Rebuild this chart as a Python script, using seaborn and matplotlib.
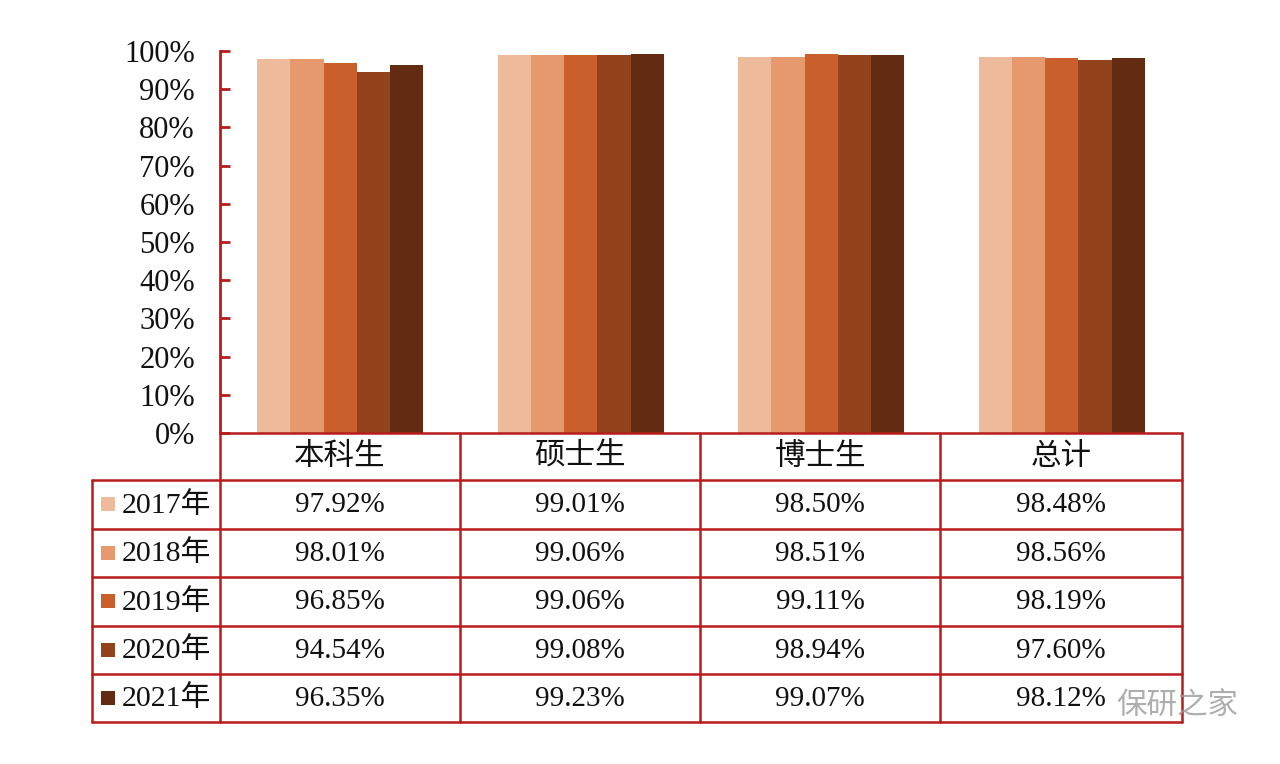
import numpy as np
import pandas as pd
import seaborn as sns
import matplotlib.pyplot as plt
from matplotlib.patches import Rectangle

categories = ['本科生', '硕士生', '博士生', '总计']
years = ['2017年', '2018年', '2019年', '2020年', '2021年']
rate_2017 = [97.92, 99.01, 98.50, 98.48]
rate_2018 = [98.01, 99.06, 98.51, 98.56]
rate_2019 = [96.85, 99.06, 99.11, 98.19]
rate_2020 = [94.54, 99.08, 98.94, 97.60]
rate_2021 = [96.35, 99.23, 99.07, 98.12]
colors = ['#EDBB9C', '#E5996C', '#C9602B', '#93431C', '#632B12']
red = '#B81C1C'

rates = [rate_2017, rate_2018, rate_2019, rate_2020, rate_2021]
rows = []
for yr, vals in zip(years, rates):
    for cat, v in zip(categories, vals):
        rows.append({'类别': cat, '年份': yr, '比例': v})
df = pd.DataFrame(rows)

sns.set_theme(style='white')
plt.rcParams['font.family'] = ['Liberation Serif', 'Noto Sans CJK SC']

W, H = 1280, 764
fig = plt.figure(figsize=(12.8, 7.64), dpi=100)
fig.patch.set_facecolor('white')

# bar part
ax = fig.add_axes([220 / W, 1 - 433 / H, (1182 - 220) / W, (433 - 51) / H])
sns.barplot(data=df, x='类别', y='比例', hue='年份', order=categories,
            hue_order=years, palette=colors, saturation=1, width=0.69,
            linewidth=0, legend=False, ax=ax)
ax.set_xlim(-0.5, 3.5)
ax.set_ylim(0, 100)
ax.set_yticks(np.arange(0, 101, 10))
ax.set_yticklabels([f'{v}%' for v in range(0, 101, 10)])
ax.set_xticks([])
ax.set_xlabel('')
ax.set_ylabel('')
for s in ['top', 'right', 'bottom']:
    ax.spines[s].set_visible(False)
ax.spines['left'].set_color(red)
ax.spines['left'].set_linewidth(2)
ax.tick_params(axis='y', direction='in', length=7, width=2, color=red,
               labelsize=22, pad=18, labelcolor='#111111', left=True)
ax.patch.set_alpha(0)

# data table underneath
tb = fig.add_axes([0, 0, 1, 1])
tb.set_xlim(0, W)
tb.set_ylim(H, 0)
tb.axis('off')
tb.patch.set_alpha(0)

col_x = [220, 460, 700, 940, 1182]
row_y = [433, 480, 528.5, 577, 625.5, 674, 722]
left_x = 92
lw = 1.8

# horizontal lines
tb.plot([col_x[0], col_x[-1]], [row_y[0], row_y[0]], color=red, lw=lw)
for y in row_y[1:]:
    tb.plot([left_x, col_x[-1]], [y, y], color=red, lw=lw)
# vertical lines
for x in col_x:
    tb.plot([x, x], [row_y[0], row_y[-1]], color=red, lw=lw)
tb.plot([left_x, left_x], [row_y[1], row_y[-1]], color=red, lw=lw)

# header
for i, cat in enumerate(categories):
    cx = (col_x[i] + col_x[i + 1]) / 2
    cy = (row_y[0] + row_y[1]) / 2
    tb.text(cx, cy, cat, ha='center', va='center', fontsize=22,
            color='#111111', family=['Noto Sans CJK SC'])

# body
for r, (yr, vals) in enumerate(zip(years, rates)):
    cy = (row_y[r + 1] + row_y[r + 2]) / 2
    tb.add_patch(Rectangle((101, cy - 7), 14, 14, color=colors[r], lw=0))
    tb.text(122, cy + 1, yr, ha='left', va='center', fontsize=21.5,
            color='#111111')
    for i, v in enumerate(vals):
        cx = (col_x[i] + col_x[i + 1]) / 2
        tb.text(cx, cy + 1, f'{v:.2f}%', ha='center', va='center',
                fontsize=21, color='#111111')

# watermark
tb.text(1238, 706, '保研之家', ha='right', va='center', fontsize=22,
        color='#9a9a9a', alpha=0.8, family=['Noto Sans CJK SC'])

fig.savefig('out.png', dpi=100)
